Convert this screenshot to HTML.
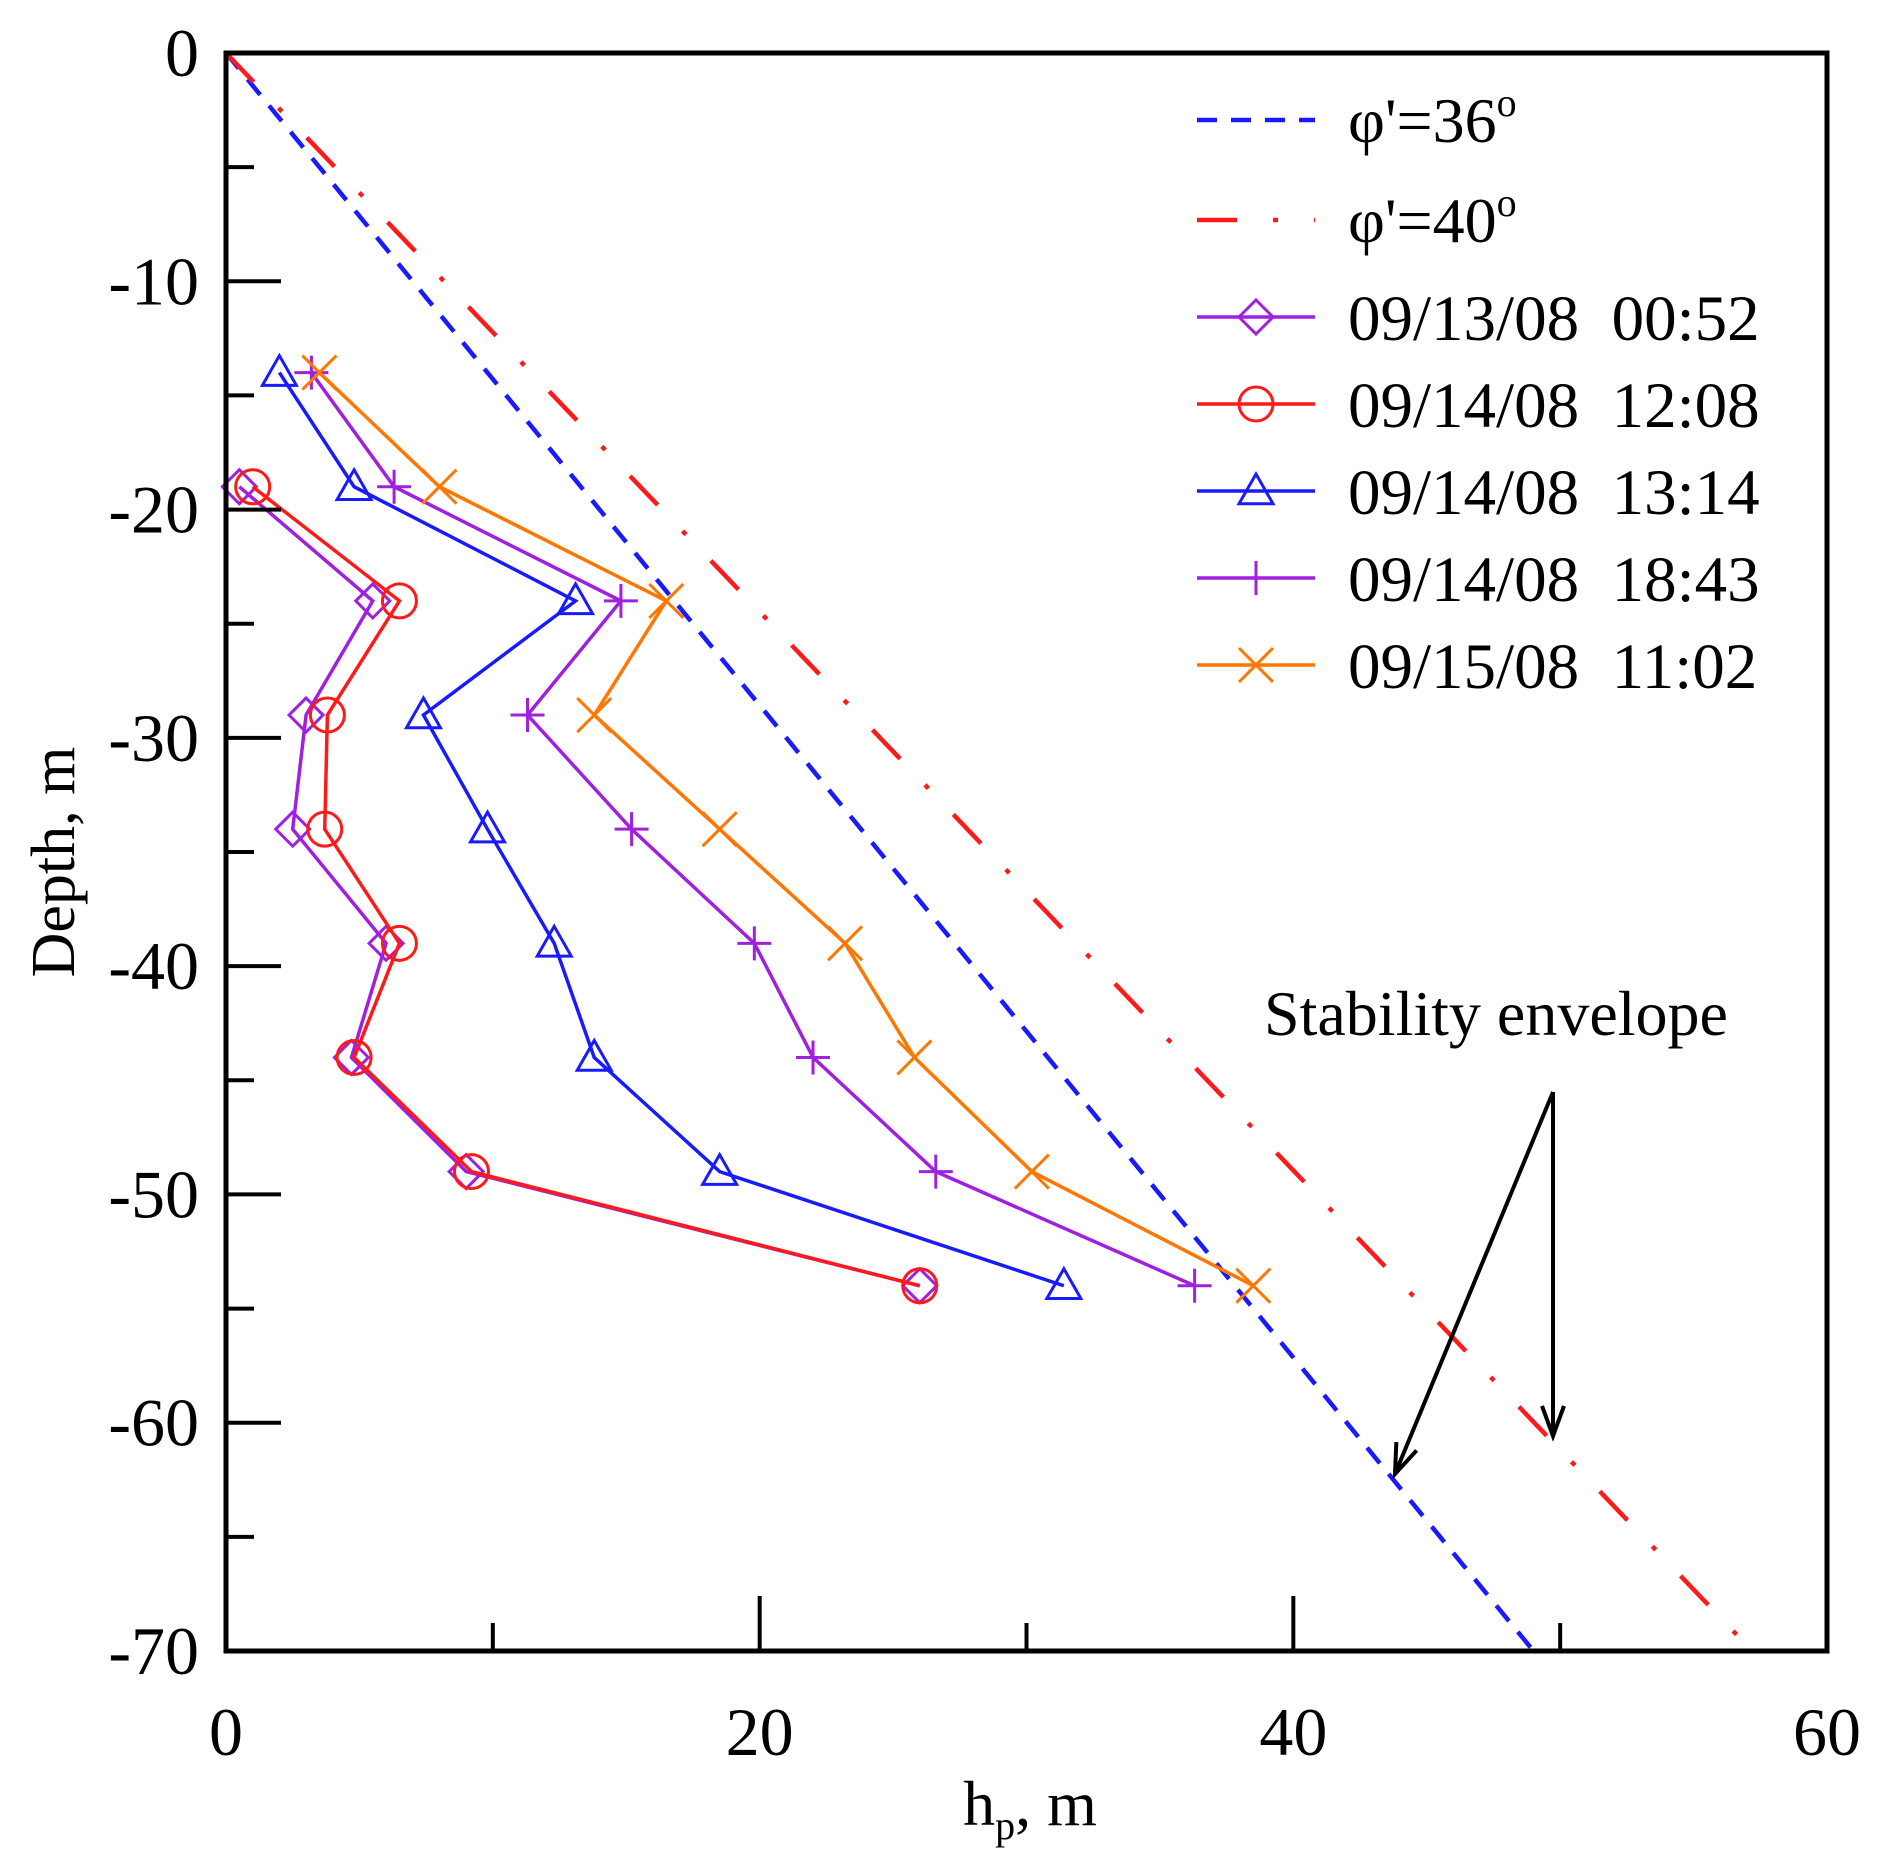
<!DOCTYPE html>
<html><head><meta charset="utf-8"><style>
html,body{margin:0;padding:0;background:#fff;}
svg{display:block;font-family:"Liberation Serif",serif;}
</style></head><body>
<svg id="chart" width="1881" height="1864" viewBox="0 0 1881 1864" xmlns="http://www.w3.org/2000/svg">
<g id="plot"></g>
</svg>
<script>
const depths=[-14,-19,-24,-29,-34,-39,-44,-49,-54];
const s0052=[null,0.5,5.5,3,2.5,6,4.7,9,26];
const s1208=[null,1,6.5,3.8,3.7,6.5,4.8,9.2,26];
const s1314=[2,4.8,13.1,7.4,9.8,12.3,13.8,18.5,31.4];
const s1843=[3.2,6.3,14.8,11.3,15.2,19.8,22,26.6,36.3];
const s1102=[3.5,8,16.5,13.8,18.5,23.2,25.8,30.2,38.5];
const envelope36=[[0,0],[49,-70]];
const envelope40=[[0,0],[57.2,-70]];
const xTicks=[0,20,40,60];
const yTicks=[0,-10,-20,-30,-40,-50,-60,-70];
const L=226,R=1827,T=53,B=1651;
const X=v=>L+(v-0)/60*(R-L);
const Y=v=>T+(0-v)/70*(B-T);
const NS="http://www.w3.org/2000/svg";
const g=document.getElementById('plot');
function mk(tag,attrs,parent){const e=document.createElementNS(NS,tag);for(const k in attrs)e.setAttribute(k,attrs[k]);(parent||g).appendChild(e);return e;}
let e1=mk('line',{x1:X(envelope36[0][0]),y1:Y(envelope36[0][1]),x2:X(envelope36[1][0]),y2:Y(envelope36[1][1]),stroke:'#1a1aff','stroke-width':4.5,'stroke-dasharray':'20 14'});


let e2=mk('line',{x1:X(envelope40[0][0]),y1:Y(envelope40[0][1]),x2:X(envelope40[1][0]),y2:Y(envelope40[1][1]),stroke:'#ff1a1a','stroke-width':4.5,'stroke-dasharray':'40 36 5 36'});


function marker(type,cx,cy,color,parent){
 const r=17,sw=3;
 if(type==='diamond')return mk('polygon',{points:`${cx},${cy-r} ${cx+r},${cy} ${cx},${cy+r} ${cx-r},${cy}`,fill:'none',stroke:color,'stroke-width':sw},parent);
 if(type==='circle')return mk('circle',{cx:cx,cy:cy,r:r,fill:'none',stroke:color,'stroke-width':sw},parent);
 if(type==='tri')return mk('polygon',{points:`${cx},${cy-r} ${cx+r},${cy+r*0.75} ${cx-r},${cy+r*0.75}`,fill:'none',stroke:color,'stroke-width':sw},parent);
 if(type==='plus')return mk('path',{d:`M${cx-r},${cy}H${cx+r}M${cx},${cy-r}V${cy+r}`,stroke:color,'stroke-width':sw},parent);
 if(type==='x')return mk('path',{d:`M${cx-r},${cy-r}L${cx+r},${cy+r}M${cx-r},${cy+r}L${cx+r},${cy-r}`,stroke:color,'stroke-width':sw},parent);
}
const series=[
 {vals:s0052,type:'diamond',color:'#a020e0',name:'series-0913-0052',label:'09/13/08  00:52'},
 {vals:s1208,type:'circle',color:'#ff1a1a',name:'series-0914-1208',label:'09/14/08  12:08'},
 {vals:s1314,type:'tri',color:'#1a1aff',name:'series-0914-1314',label:'09/14/08  13:14'},
 {vals:s1843,type:'plus',color:'#a020e0',name:'series-0914-1843',label:'09/14/08  18:43'},
 {vals:s1102,type:'x',color:'#ff7700',name:'series-0915-1102',label:'09/15/08  11:02'}
];
series.forEach(s=>{
 const grp=mk('g',{});
 
 
 const pts=[];
 s.vals.forEach((v,i)=>{if(v!==null)pts.push([X(v),Y(depths[i])]);});
 const pl=mk('polyline',{points:pts.map(p=>p.join(',')).join(' '),fill:'none',stroke:s.color,'stroke-width':3.5},grp);
 
 
 pts.forEach(p=>{const m=marker(s.type,p[0],p[1],s.color,grp);
  
  });
});
const fr=mk('rect',{x:L,y:T,width:R-L,height:B-T,fill:'none',stroke:'#000','stroke-width':5});


for(let v=0;v>=-70;v-=5){const maj=v%10===0;const t=mk('line',{x1:L,x2:L+(maj?55:28),y1:Y(v),y2:Y(v),stroke:'#000','stroke-width':4});
 
 }
for(let v=0;v<=60;v+=10){const maj=v%20===0;const t=mk('line',{x1:X(v),x2:X(v),y1:B,y2:B-(maj?55:28),stroke:'#000','stroke-width':4});
 
 }
yTicks.forEach(v=>{const t=mk('text',{x:199,y:Y(v)+23,'text-anchor':'end','font-size':68});t.textContent=String(v);
 
 });
xTicks.forEach(v=>{const t=mk('text',{x:X(v),y:1755,'text-anchor':'middle','font-size':68});t.textContent=v;
 
 });
let xt=mk('text',{x:1030,y:1825,'text-anchor':'middle','font-size':64});
xt.innerHTML='h<tspan font-size="40" dy="14">p</tspan><tspan dy="-14">, m</tspan>';


let yt=mk('text',{x:0,y:0,'text-anchor':'middle','font-size':62,transform:'translate(74,862) rotate(-90)'});
yt.textContent='Depth, m';


const lg=mk('g',{});


const ly=[120,220,317,404,491,578,665];
const lx1=1197,lx2=1315,tx=1348;
mk('line',{x1:lx1,x2:lx2,y1:ly[0],y2:ly[0],stroke:'#1a1aff','stroke-width':4.5,'stroke-dasharray':'20 14'},lg);
mk('line',{x1:lx1,x2:lx2,y1:ly[1],y2:ly[1],stroke:'#ff1a1a','stroke-width':4.5,'stroke-dasharray':'40 36 5 36'},lg);
[['φ\'=36','legend-entry-phi-36'],['φ\'=40','legend-entry-phi-40']].forEach((a,i)=>{
 const t=mk('text',{x:tx,y:ly[i]+22,'font-size':64},lg);
 t.innerHTML=a[0]+'<tspan font-size="40" dy="-26">o</tspan>';
 
 });
series.forEach((s,i)=>{const y=ly[i+2];
 mk('line',{x1:lx1,x2:lx2,y1:y,y2:y,stroke:s.color,'stroke-width':3.5},lg);
 marker(s.type,(lx1+lx2)/2,y,s.color,lg);
 const t=mk('text',{x:tx,y:y+23,'font-size':65},lg);
 t.setAttribute('style','white-space:pre');
 t.textContent=s.label;
 
 });
let an=mk('text',{x:1264,y:1035,'font-size':64});
an.textContent='Stability envelope';


function arrow(x1,y1,x2,y2,name){
 const a=mk('line',{x1,y1,x2,y2,stroke:'#000','stroke-width':4});
 
 
 const ang=Math.atan2(y2-y1,x2-x1),h=32,w=0.35;
 const p=mk('path',{d:`M${x2-h*Math.cos(ang-w)},${y2-h*Math.sin(ang-w)}L${x2},${y2}L${x2-h*Math.cos(ang+w)},${y2-h*Math.sin(ang+w)}`,fill:'none',stroke:'#000','stroke-width':4});
 
 
}
arrow(1553,1092,1395,1474,'arrow-to-phi-36');
arrow(1553,1092,1553,1436,'arrow-to-phi-40');
</script>
</body></html>
